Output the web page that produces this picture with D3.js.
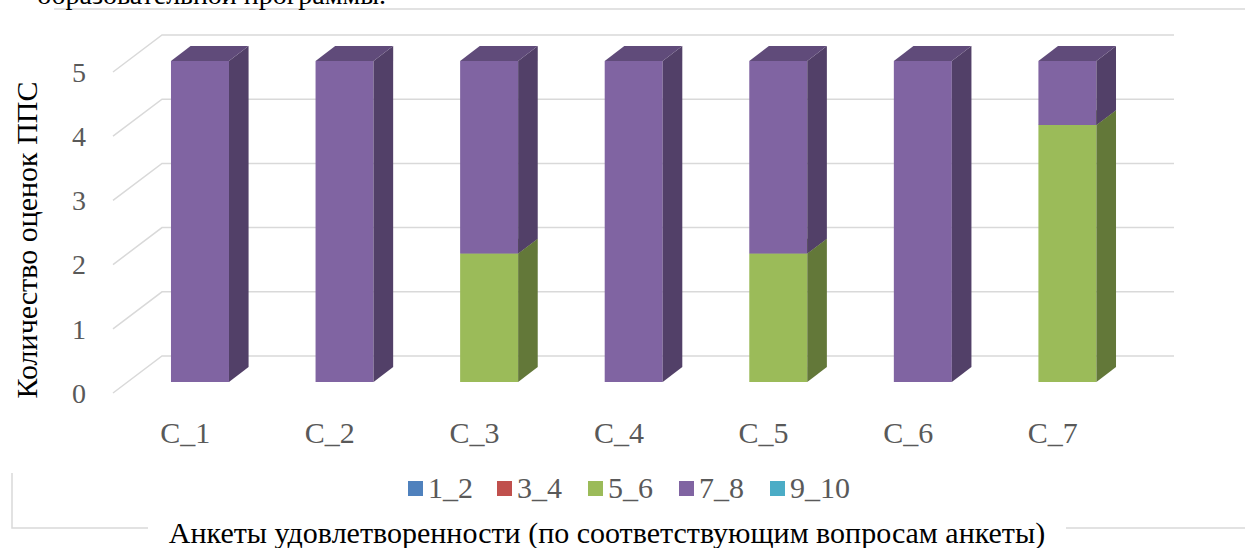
<!DOCTYPE html>
<html><head><meta charset="utf-8">
<script src="https://cdn.jsdelivr.net/npm/d3@7"></script>
<style>body{margin:0;background:#fff}svg{display:block}</style>
</head><body>
<svg id="c" width="1245" height="548"></svg>
<script>
const categories = ["C_1","C_2","C_3","C_4","C_5","C_6","C_7"];
const seriesNames = ["1_2","3_4","5_6","7_8","9_10"];
const s1_2  = [0,0,0,0,0,0,0];
const s3_4  = [0,0,0,0,0,0,0];
const s5_6  = [0,0,2,0,2,0,4];
const s7_8  = [5,5,3,5,3,5,1];
const s9_10 = [0,0,0,0,0,0,0];
const yTicks = [0,1,2,3,4,5];
const colors = ["#4F81BD","#C0504D","#9BBB59","#8064A2","#4BACC6"];
const yTitle = "Количество оценок ППС";
const xTitle = "Анкеты удовлетворенности (по соответствующим вопросам анкеты)";
const topText = "образовательной программы.";

const svg = d3.select("#c");
const serif = "Liberation Serif";
const grey = "#595959";

const rows = categories.map((c,i)=>({cat:c,"1_2":s1_2[i],"3_4":s3_4[i],"5_6":s5_6[i],"7_8":s7_8[i],"9_10":s9_10[i]}));
const stack = d3.stack().keys(seriesNames)(rows);

const xL = 113, xR = 1125;
const x = d3.scaleBand().domain(categories).range([xL, xR]).padding(0);
const y = d3.scaleLinear().domain([0,5]).range([393,72]);
const DX = 49, DY = -37;
const zF = 0.30, zB = 0.70;
const barW = 58;
const P = (px, v, z) => [px + z*DX, y(v) + z*DY];

// frame fragments
const frame = svg.append("g").attr("stroke","#D9D9D9").attr("stroke-width",1.5).attr("fill","none");
frame.append("path").attr("d","M54,9H1245");
frame.append("path").attr("d","M12,473V528H148");
frame.append("path").attr("d","M1066,528H1245");

// top clipped text
svg.append("text").attr("x",386).attr("y",4).attr("text-anchor","end")
  .attr("font-family",serif).attr("font-size",28).attr("fill","#000").text(topText);

// gridlines
const grid = svg.append("g").attr("stroke","#D9D9D9").attr("stroke-width",1.5).attr("fill","none");
yTicks.forEach(v=>{
  const a = P(xL,v,0), b = P(xL,v,1), c = P(xR,v,1);
  grid.append("path").attr("d",`M${a}L${b}L${c}`);
});

// y tick labels
svg.append("g").selectAll("text").data(yTicks).join("text")
  .attr("x",86).attr("y",d=>y(d)).attr("dy","0.35em").attr("text-anchor","end")
  .attr("font-family",serif).attr("font-size",28).attr("fill",grey).text(d=>d);

// bars
const bars = svg.append("g");
stack.forEach((layer,si)=>{
  const base = d3.color(colors[si]);
  const side = base.darker(1.25).formatHex();
  const top = base.darker(0.8).formatHex();
  layer.forEach((d,ci)=>{
    const v0 = d[0], v1 = d[1];
    if (v1 - v0 <= 0) return;
    const cx = x(categories[ci]) + x.bandwidth()/2;
    const l = cx - barW/2, r = cx + barW/2;
    const fl = P(l, v1, zF), fr = P(r, v1, zF), frb = P(r, v0, zF), flb = P(l, v0, zF);
    const bl = P(l, v1, zB), br = P(r, v1, zB), brb = P(r, v0, zB);
    bars.append("path").attr("d",`M${fl}L${fr}L${frb}L${flb}Z`).attr("fill",colors[si]);
    bars.append("path").attr("d",`M${fr}L${br}L${brb}L${frb}Z`).attr("fill",side);
    bars.append("path").attr("d",`M${fl}L${bl}L${br}L${fr}Z`).attr("fill",top);
  });
});

// category labels
svg.append("g").selectAll("text").data(categories).join("text")
  .attr("x",d=>x(d)+x.bandwidth()/2).attr("y",443).attr("text-anchor","middle")
  .attr("font-family",serif).attr("font-size",30).attr("fill",grey).text(d=>d);

// legend
const legX = [408,497,588,679,770];
const leg = svg.append("g");
seriesNames.forEach((n,i)=>{
  leg.append("rect").attr("x",legX[i]).attr("y",481).attr("width",15).attr("height",15).attr("fill",colors[i]);
  leg.append("text").attr("x",legX[i]+20).attr("y",498).attr("font-family",serif).attr("font-size",30)
    .attr("fill",grey).text(n);
});

// axis titles
svg.append("text").attr("transform","translate(37,240) rotate(-90)").attr("text-anchor","middle")
  .attr("font-family",serif).attr("font-size",30).attr("fill","#000").text(yTitle);
svg.append("text").attr("x",607).attr("y",543).attr("text-anchor","middle")
  .attr("font-family",serif).attr("font-size",30).attr("fill","#000").text(xTitle);
</script>
</body></html>
